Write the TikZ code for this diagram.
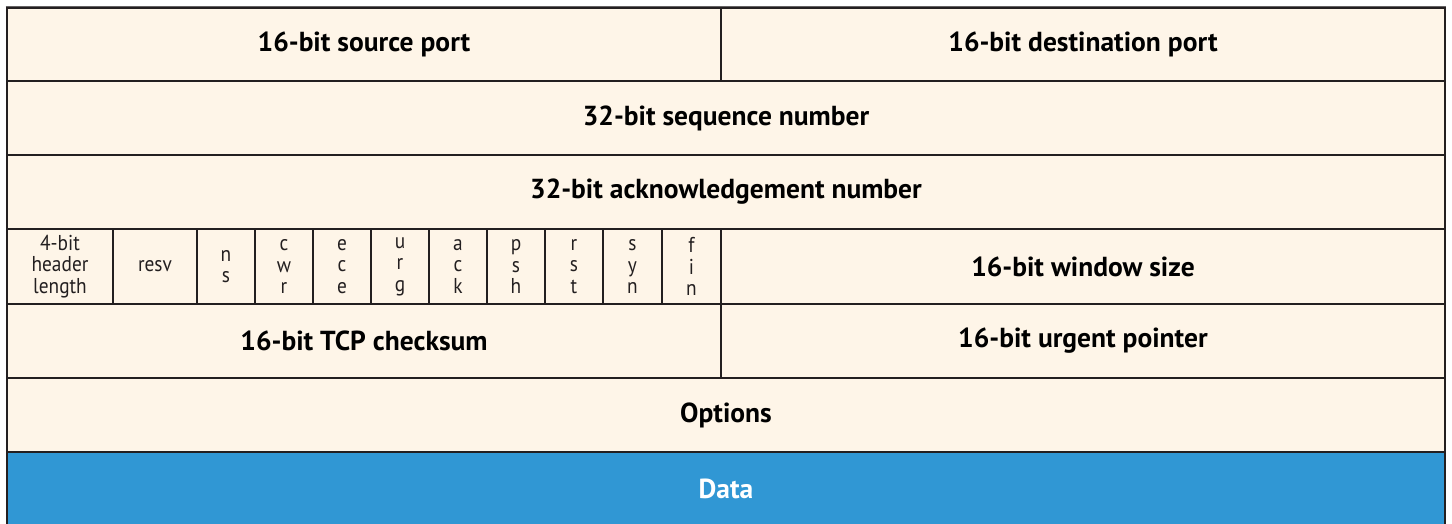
\documentclass[tikz,border=0pt]{standalone}
\usepackage{fontspec}
\setmainfont{PT Sans}
\newfontfamily\condfont[FakeStretch=0.9]{PT Sans}
\definecolor{cream}{HTML}{FEF5E8}
\definecolor{edge}{HTML}{231F20}
\definecolor{datablue}{HTML}{3097D4}
\begin{document}
\begin{tikzpicture}[x=1pt,y=-1pt,
  cell/.style={draw=edge, line width=2.8pt, fill=cream, inner sep=0pt, align=center},
  big/.style={font=\fontsize{27.5}{30}\selectfont\bfseries},
  flag/.style={font=\condfont\fontsize{21.5}{21.5}\selectfont, text=edge}]
\useasboundingbox (0,0) rectangle (1452,523);
% row 1
\node[cell,big,minimum width=714pt,minimum height=73pt] (sp) at (364,44.5) {16-bit source port};
\node[cell,big,minimum width=724pt,minimum height=73pt] (dp) at (1083,44.5) {16-bit destination port};
% row 2
\node[cell,big,minimum width=1438pt,minimum height=74pt] (seq) at (726,118) {32-bit sequence number};
% row 3
\node[cell,big,minimum width=1438pt,minimum height=74pt] (ack) at (726,192) {32-bit acknowledgement number};
% row 4
\node[cell,flag,minimum width=106pt,minimum height=75pt] (hl) at (60,266.5) {4-bit\\header\\length};
\node[cell,flag,minimum width=84pt,minimum height=75pt] (resv) at (155,266.5) {resv};
\node[cell,flag,minimum width=58pt,minimum height=75pt] (ns) at (226,266.5) {n\\s};
\node[cell,flag,minimum width=58pt,minimum height=75pt] (cwr) at (284,266.5) {c\\w\\r};
\node[cell,flag,minimum width=58pt,minimum height=75pt] (ece) at (342,266.5) {e\\c\\e};
\node[cell,flag,minimum width=58pt,minimum height=75pt] (urg) at (400,266.5) {u\\r\\g};
\node[cell,flag,minimum width=58pt,minimum height=75pt] (fack) at (458,266.5) {a\\c\\k};
\node[cell,flag,minimum width=58pt,minimum height=75pt] (psh) at (516,266.5) {p\\s\\h};
\node[cell,flag,minimum width=58pt,minimum height=75pt] (rst) at (574,266.5) {r\\s\\t};
\node[cell,flag,minimum width=59pt,minimum height=75pt] (syn) at (632.5,266.5) {s\\y\\n};
\node[cell,flag,minimum width=59pt,minimum height=75pt] (fin) at (691.5,266.5) {f\\i\\n};
\node[cell,big,minimum width=724pt,minimum height=75pt] (win) at (1083,266.5) {16-bit window size};
% row 5
\node[cell,big,minimum width=714pt,minimum height=74pt] (cks) at (364,341) {16-bit TCP checksum};
\node[cell,big,minimum width=724pt,minimum height=74pt] (urgp) at (1083,341) {16-bit urgent pointer};
% row 6
\node[cell,big,minimum width=1438pt,minimum height=74pt] (opt) at (726,415) {Options};
% row 7
\node[cell,big,fill=datablue,text=white,minimum width=1438pt,minimum height=74pt] (data) at (726,489) {Data};
% top edge lighter
\draw[line width=1.5pt, color=edge!70] (sp.north west) -- (dp.north east);
\end{tikzpicture}
\end{document}
